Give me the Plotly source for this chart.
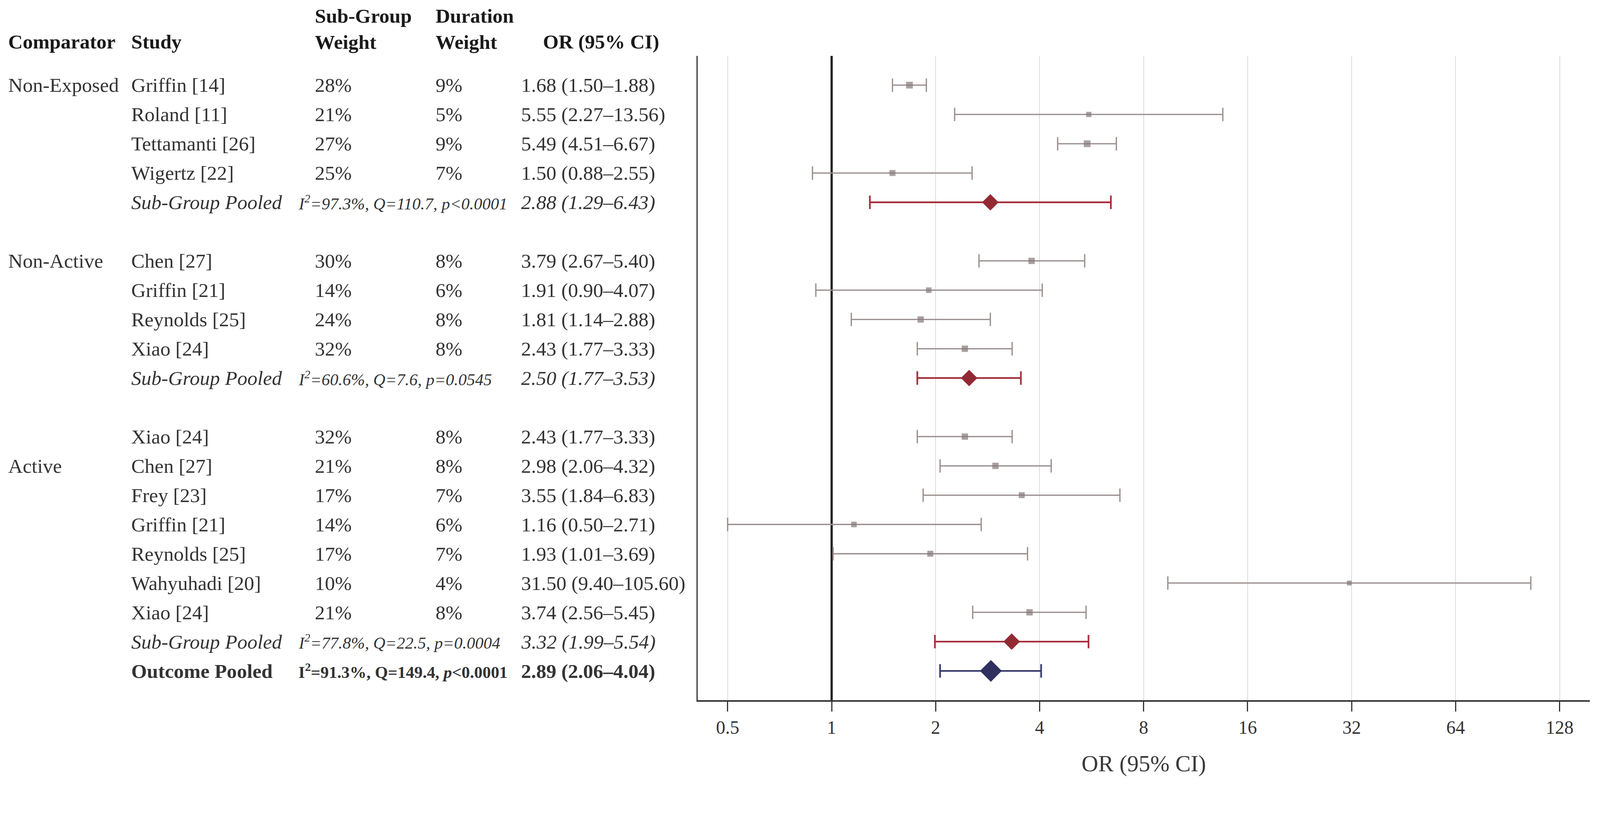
import math
import plotly.graph_objects as go

# ---- data ----
group_names = ["Non-Exposed", "Non-Active", "Active"]
label_offset = [0, 0, 1]  # which study row carries the comparator label

ne_studies = ["Griffin [14]", "Roland [11]", "Tettamanti [26]", "Wigertz [22]"]
ne_sub_w = [28, 21, 27, 25]
ne_dur_w = [9, 5, 9, 7]
ne_or = [1.68, 5.55, 5.49, 1.50]
ne_lo = [1.50, 2.27, 4.51, 0.88]
ne_hi = [1.88, 13.56, 6.67, 2.55]

na_studies = ["Chen [27]", "Griffin [21]", "Reynolds [25]", "Xiao [24]"]
na_sub_w = [30, 14, 24, 32]
na_dur_w = [8, 6, 8, 8]
na_or = [3.79, 1.91, 1.81, 2.43]
na_lo = [2.67, 0.90, 1.14, 1.77]
na_hi = [5.40, 4.07, 2.88, 3.33]

ac_studies = ["Xiao [24]", "Chen [27]", "Frey [23]", "Griffin [21]",
              "Reynolds [25]", "Wahyuhadi [20]", "Xiao [24]"]
ac_sub_w = [32, 21, 17, 14, 17, 10, 21]
ac_dur_w = [8, 8, 7, 6, 7, 4, 8]
ac_or = [2.43, 2.98, 3.55, 1.16, 1.93, 31.50, 3.74]
ac_lo = [1.77, 2.06, 1.84, 0.50, 1.01, 9.40, 2.56]
ac_hi = [3.33, 4.32, 6.83, 2.71, 3.69, 105.60, 5.45]

pooled_or = [2.88, 2.50, 3.32]
pooled_lo = [1.29, 1.77, 1.99]
pooled_hi = [6.43, 3.53, 5.54]
pooled_i2 = ["97.3%", "60.6%", "77.8%"]
pooled_q = ["110.7", "7.6", "22.5"]
pooled_p = ["&lt;0.0001", "=0.0545", "=0.0004"]

outcome_or = 2.89
outcome_lo = 2.06
outcome_hi = 4.04
outcome_stats = ["91.3%", "149.4", "&lt;0.0001"]

tick_vals = [0.5, 1, 2, 4, 8, 16, 32, 64, 128]
tick_text = ["0.5", "1", "2", "4", "8", "16", "32", "64", "128"]

groups = [
    (ne_studies, ne_sub_w, ne_dur_w, ne_or, ne_lo, ne_hi),
    (na_studies, na_sub_w, na_dur_w, na_or, na_lo, na_hi),
    (ac_studies, ac_sub_w, ac_dur_w, ac_or, ac_lo, ac_hi),
]

# ---- layout constants, measured in picture pixels ----
# the page is photographed slightly magnified, so CSS sizes are divided by K
K = 1.048


def s(v):
    return v / K


W, H = 4290, 2114
ML, MR, MT, MB = 0, 25, 150, 236
PW = W - ML - MR
PH = H - MT - MB
AX_LEFT = 1872
FONT = "Liberation Serif"
TXT = "#333333"

COL_COMP, COL_STUDY, COL_SW, COL_DW, COL_STAT, COL_OR = 20, 350, 843, 1166, 798, 1396


def px(x):
    return (x - ML) / PW


def py(y):
    return (H - MB - y) / PH


def fmt_or(o, lo, hi):
    return f"{o:.2f} ({lo:.2f}\u2013{hi:.2f})"


annotations = []


def add_text(x, row, text, size=54, color=TXT, yref="y"):
    annotations.append(dict(x=px(x), xref="paper", y=row, yref=yref, text=text,
                            showarrow=False, xanchor="left", yanchor="middle", align="left",
                            font=dict(family=FONT, size=s(size), color=color)))


st_x, st_y, st_size = [], [], []
st_lo, st_hi = [], []
pl_x, pl_y, pl_lo, pl_hi = [], [], [], []

row = 0
for g, (names, sw, dw, ors, los, his) in enumerate(groups):
    for i in range(len(names)):
        if i == label_offset[g]:
            add_text(COL_COMP, row, group_names[g])
        add_text(COL_STUDY, row, names[i])
        add_text(COL_SW, row, f"{sw[i]}%")
        add_text(COL_DW, row, f"{dw[i]}%")
        add_text(COL_OR, row, fmt_or(ors[i], los[i], his[i]))
        st_x.append(ors[i])
        st_y.append(row)
        st_size.append(s(9 + dw[i]))
        st_lo.append(ors[i] - los[i])
        st_hi.append(his[i] - ors[i])
        row += 1
    # sub-group pooled row
    add_text(COL_STUDY, row, "<i>Sub-Group Pooled</i>")
    add_text(COL_STAT, row,
             f"<i>I<sup>2</sup>={pooled_i2[g]}, Q={pooled_q[g]}, p{pooled_p[g]}</i>", size=45)
    add_text(COL_OR, row, "<i>" + fmt_or(pooled_or[g], pooled_lo[g], pooled_hi[g]) + "</i>")
    pl_x.append(pooled_or[g])
    pl_y.append(row)
    pl_lo.append(pooled_or[g] - pooled_lo[g])
    pl_hi.append(pooled_hi[g] - pooled_or[g])
    row += 1
    if g < len(groups) - 1:
        row += 1  # blank spacer row

outcome_row = row
add_text(COL_STUDY, outcome_row, "<b>Outcome Pooled</b>")
add_text(COL_STAT, outcome_row,
         f"<b>I<sup>2</sup>={outcome_stats[0]}, Q={outcome_stats[1]}, <i>p</i>{outcome_stats[2]}</b>",
         size=45)
add_text(COL_OR, outcome_row, "<b>" + fmt_or(outcome_or, outcome_lo, outcome_hi) + "</b>")

# headers
HDR = "#1a1a1a"
add_text(COL_COMP, py(112), "<b>Comparator</b>", color=HDR, yref="paper")
add_text(COL_STUDY, py(112), "<b>Study</b>", color=HDR, yref="paper")
add_text(COL_SW, py(78), "<b>Sub-Group<br>Weight</b>", color=HDR, yref="paper")
add_text(COL_DW, py(78), "<b>Duration<br>Weight</b>", color=HDR, yref="paper")
add_text(1455, py(112), "<b>OR (95% CI)</b>", color=HDR, yref="paper")

fig = go.Figure()

# reference line at OR = 1
fig.add_trace(go.Scatter(x=[1, 1], y=[-1, outcome_row + 1], mode="lines",
                         line=dict(color="#222222", width=s(6)), hoverinfo="skip"))

fig.add_trace(go.Scatter(
    x=st_x, y=st_y, mode="markers",
    marker=dict(symbol="square", size=st_size, color="#85787a", line=dict(width=0)),
    error_x=dict(type="data", symmetric=False, array=st_hi, arrayminus=st_lo,
                 color="#9c8f8f", thickness=s(3.5), width=s(18)),
))

fig.add_trace(go.Scatter(
    x=pl_x, y=pl_y, mode="markers",
    marker=dict(symbol="diamond", size=s(34), color="#932a33", line=dict(width=0)),
    error_x=dict(type="data", symmetric=False, array=pl_hi, arrayminus=pl_lo,
                 color="#a6303d", thickness=s(4.5), width=s(18)),
))

fig.add_trace(go.Scatter(
    x=[outcome_or], y=[outcome_row], mode="markers",
    marker=dict(symbol="diamond", size=s(45), color="#2f305f", line=dict(width=0)),
    error_x=dict(type="data", symmetric=False, array=[outcome_hi - outcome_or],
                 arrayminus=[outcome_or - outcome_lo],
                 color="#393b6e", thickness=s(4.5), width=s(18)),
))

x_lo = 2 ** ((AX_LEFT - 2231) / 279)
x_hi = 2 ** ((W - MR - 2231) / 279)

fig.update_layout(
    width=round(s(W)), height=round(s(H)),
    margin=dict(l=s(ML), r=s(MR), t=s(MT), b=s(MB)),
    paper_bgcolor="white", plot_bgcolor="white",
    showlegend=False,
    annotations=annotations,
    font=dict(family=FONT, color=TXT),
    xaxis=dict(
        type="log", domain=[px(AX_LEFT), 1],
        range=[math.log10(x_lo), math.log10(x_hi)],
        tickvals=tick_vals, ticktext=tick_text,
        tickfont=dict(family=FONT, size=s(50), color="#333333"),
        ticks="outside", ticklen=s(26), tickwidth=s(3), tickcolor="#333333",
        showgrid=True, gridcolor="#d8dbea", gridwidth=s(2.5),
        showline=True, linecolor="#333333", linewidth=s(4),
        zeroline=False,
        title=dict(text="OR (95% CI)", font=dict(family=FONT, size=s(62), color="#3a3a3a"),
                   standoff=s(49)),
    ),
    yaxis=dict(
        range=[outcome_row + 1, -1],
        showticklabels=False, ticks="", showgrid=False, zeroline=False,
        showline=True, linecolor="#333333", linewidth=s(3),
    ),
)

fig.write_html("out.html", config={"displayModeBar": False},
               post_script="document.body.style.margin='0';document.body.style.overflow='hidden';")
